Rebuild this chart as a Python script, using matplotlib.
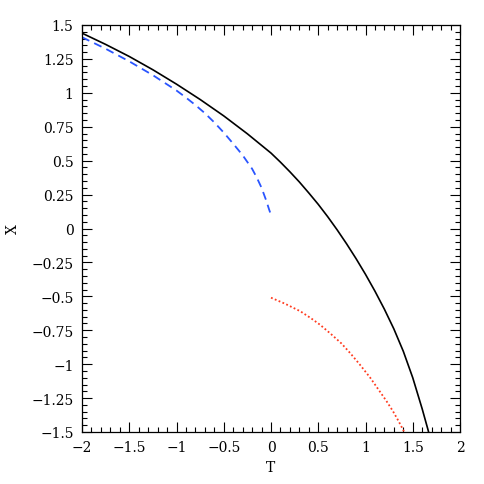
import matplotlib
matplotlib.use("Agg")
import matplotlib.pyplot as plt
from matplotlib.ticker import MultipleLocator, FuncFormatter

# Data
black_T = [-2.0, -1.75, -1.5, -1.25, -1.0, -0.75, -0.5, -0.25, 0.0, 0.1, 0.2, 0.3, 0.4,
           0.5, 0.6, 0.7, 0.8, 0.9, 1.0, 1.1, 1.2, 1.3, 1.4, 1.5, 1.6, 1.66, 1.70]
black_X = [1.44, 1.357, 1.268, 1.17, 1.064, 0.951, 0.83, 0.698, 0.556, 0.489, 0.418, 0.343, 0.262,
           0.178, 0.087, -0.01, -0.113, -0.222, -0.338, -0.462, -0.595, -0.74, -0.905, -1.1, -1.33, -1.48, -1.585]

blue_T = [-2.0, -1.75, -1.5, -1.25, -1.0, -0.9, -0.8, -0.7, -0.6, -0.5, -0.4, -0.3,
          -0.2, -0.15, -0.1, -0.05, -0.02, 0.0]
blue_X = [1.41, 1.325, 1.232, 1.13, 1.017, 0.965, 0.91, 0.85, 0.782, 0.707, 0.625, 0.54,
          0.44, 0.375, 0.30, 0.205, 0.14, 0.10]

red_T = [0.0, 0.15, 0.31, 0.42, 0.52, 0.63, 0.745, 0.84, 0.94, 1.05, 1.15, 1.22, 1.29, 1.35, 1.41]
red_X = [-0.51, -0.555, -0.61, -0.66, -0.71, -0.775, -0.847, -0.92, -1.003, -1.10, -1.20, -1.27, -1.346, -1.42, -1.5]

plt.rcParams['font.family'] = ['DejaVu Serif']
plt.rcParams['axes.unicode_minus'] = True

fig = plt.figure(figsize=(4.85, 4.85), dpi=100)
ax = fig.add_axes([82/485, 1-433/485, (460-82)/485, (433-26)/485])

ax.plot(black_T, black_X, color='black', lw=1.2)
ax.plot(blue_T, blue_X, color='#2a55ff', lw=1.3, linestyle=(0, (4.5, 3)))
ax.plot(red_T, red_X, color='#ff3b1f', lw=1.3, linestyle=(0, (1, 1.3)))

ax.set_xlim(-2, 2)
ax.set_ylim(-1.5, 1.5)
ax.xaxis.set_major_locator(MultipleLocator(0.5))
ax.xaxis.set_minor_locator(MultipleLocator(0.1))
ax.yaxis.set_major_locator(MultipleLocator(0.25))
ax.yaxis.set_minor_locator(MultipleLocator(0.05))
fmt = FuncFormatter(lambda v, p: ('%g' % v).replace('-', '\u2212') if abs(v) > 1e-9 else '0')
ax.xaxis.set_major_formatter(fmt)
ax.yaxis.set_major_formatter(fmt)

ax.tick_params(which='both', direction='in', top=True, right=True, width=0.8,
               labelsize=10)
ax.tick_params(which='major', length=7)
ax.tick_params(which='minor', length=3.6)
ax.tick_params(axis='x', which='major', pad=6)
ax.tick_params(axis='y', which='major', pad=6)
for s in ax.spines.values():
    s.set_linewidth(0.9)

ax.set_xlabel('T', fontsize=10, labelpad=4)
ax.set_ylabel('X', fontsize=10, labelpad=8)

fig.savefig('out.png', dpi=100)
